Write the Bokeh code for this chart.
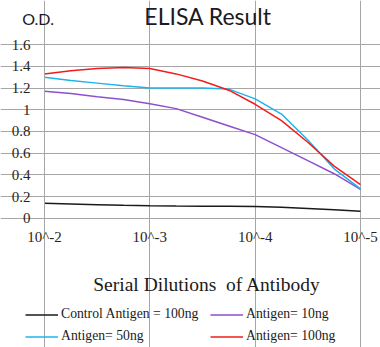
from bokeh.plotting import figure
from bokeh.models import Label, Legend, LegendItem, FixedTicker, Range1d
from bokeh.embed import file_html
from bokeh.resources import INLINE

# ---- data ----
dilution_exp = [2.0, 2.25, 2.5, 2.75, 3.0, 3.25, 3.5, 3.75, 4.0, 4.25, 4.5, 4.75, 5.0]
x_ticks = [2, 3, 4, 5]
x_tick_labels = ["10^-2", "10^-3", "10^-4", "10^-5"]
y_ticks = [0, 0.2, 0.4, 0.6, 0.8, 1.0, 1.2, 1.4, 1.6]
y_tick_labels = ["0", "0.2", "0.4", "0.6", "0.8", "1", "1.2", "1.4", "1.6"]

control_100ng = [0.138, 0.132, 0.125, 0.119, 0.114, 0.112, 0.111, 0.110, 0.108, 0.100, 0.090, 0.078, 0.065]
antigen_10ng = [1.17, 1.15, 1.12, 1.095, 1.055, 1.01, 0.93, 0.85, 0.77, 0.65, 0.53, 0.41, 0.265]
antigen_50ng = [1.30, 1.27, 1.245, 1.22, 1.20, 1.20, 1.20, 1.19, 1.10, 0.96, 0.72, 0.455, 0.27]
antigen_100ng = [1.33, 1.36, 1.38, 1.39, 1.38, 1.33, 1.265, 1.18, 1.05, 0.90, 0.70, 0.48, 0.31]

series_names = ["Control Antigen = 100ng", "Antigen= 10ng", "Antigen= 50ng", "Antigen= 100ng"]
series_values = [control_100ng, antigen_10ng, antigen_50ng, antigen_100ng]
series_colors = ["#1a1a1a", "#8e4fcf", "#1cb4ee", "#f21c1c"]
legend_order = [0, 2, 1, 3]  # column-major fill: col 1 = control, 50ng; col 2 = 10ng, 100ng

title_text = "ELISA Result"
y_title_text = "O.D."
x_title_text = "Serial Dilutions \u00a0of Antibody"

serif = "Liberation Serif"
grid_color = "#a6a6a6"

# plot area spans 10^-2..10^-5 (x) and 0..1.6 (y); the frame is widened so that
# titles and legend (annotations) sit inside it
p = figure(width=380, height=347, output_backend="svg", toolbar_location=None,
           x_range=Range1d(1.5823, 5.19), y_range=Range1d(-1.1917, 2.0065),
           min_border_left=0, min_border_right=0, min_border_top=0, min_border_bottom=0)
p.background_fill_color = "white"
p.border_fill_color = "white"
p.outline_line_color = None

renderers = []
for vals, col in zip(series_values, series_colors):
    r = p.line(dilution_exp, vals, line_color=col, line_width=1.5)
    renderers.append(r)

# axes
p.xaxis.ticker = FixedTicker(ticks=x_ticks)
p.xaxis.major_label_overrides = {t: l for t, l in zip(x_ticks, x_tick_labels)}
p.xaxis.fixed_location = 0
p.xaxis.bounds = (2, 5)
p.yaxis.ticker = FixedTicker(ticks=y_ticks)
p.yaxis.major_label_overrides = {t: l for t, l in zip(y_ticks, y_tick_labels)}
p.yaxis.fixed_location = 2
p.yaxis.bounds = (0, 1.6)
for ax in (p.xaxis, p.yaxis):
    ax.axis_line_color = grid_color
    ax.major_tick_line_color = grid_color
    ax.minor_tick_line_color = None
    ax.major_tick_in = 0
    ax.major_tick_out = 5
    ax.major_label_text_font = serif
    ax.major_label_text_font_size = "15px"
    ax.major_label_text_color = "#2a2418"
p.xaxis.major_label_standoff = 6
p.yaxis.major_label_standoff = 9

p.xgrid.ticker = FixedTicker(ticks=x_ticks)
p.ygrid.ticker = FixedTicker(ticks=y_ticks)
p.xgrid.bounds = (0, 1.6)
p.ygrid.bounds = (2, 5)
p.xgrid.grid_line_color = grid_color
p.ygrid.grid_line_color = grid_color

# titles
p.add_layout(Label(x=3.553, y=1.86, text=title_text, text_align="center",
                   text_baseline="alphabetic", text_font="Lato", text_font_size="23px",
                   text_color="#1a1a22"))
p.add_layout(Label(x=1.788, y=1.845, text=y_title_text, text_align="left",
                   text_baseline="alphabetic", text_font="Lato", text_font_size="16px",
                   text_color="#1a1a22"))
p.add_layout(Label(x=3.543, y=-0.61, text=x_title_text, text_align="center",
                   text_baseline="alphabetic", text_font=serif, text_font_size="19.5px",
                   text_color="#1a1a1a"))

# legend (2 columns)
items = [LegendItem(label=series_names[i], renderers=[renderers[i]]) for i in legend_order]
legend = Legend(items=items, ncols=2, location=(25, 3),
                glyph_width=33, glyph_height=13, label_height=13, label_standoff=3,
                label_width=143, spacing=6, padding=0, margin=0,
                label_text_font=serif, label_text_font_size="13.7px", label_text_color="#1a1a1a",
                border_line_alpha=0, background_fill_alpha=0)
p.add_layout(legend, "center")

open("out.html", "w").write(file_html(p, INLINE))
